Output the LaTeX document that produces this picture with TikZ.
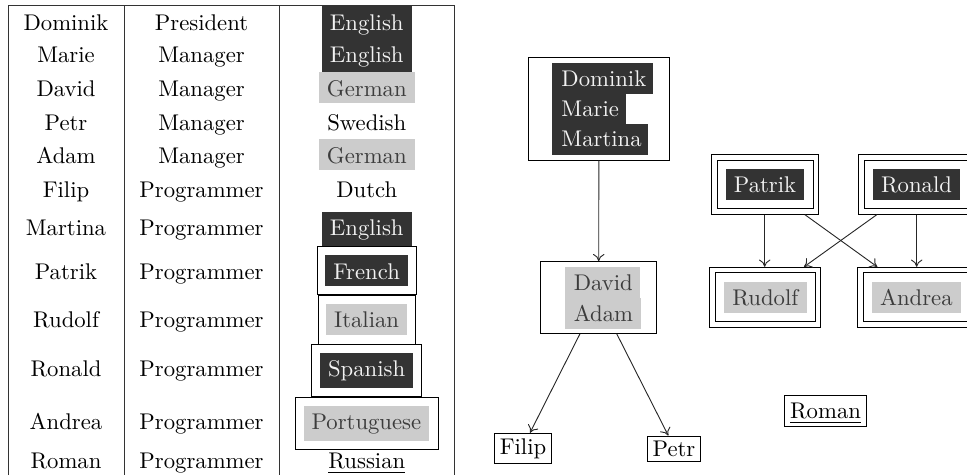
\documentclass[tikz,border=0pt]{standalone}
\usetikzlibrary{arrows.meta}
\newdimen\pxu \pxu=0.4405pt
\definecolor{dk}{HTML}{333333}
\definecolor{lg}{HTML}{CCCCCC}
\definecolor{dkt}{HTML}{F2F2F2}
\definecolor{lgt}{HTML}{3C3C3C}
\newcommand\bx[6]{\node[#1, inner sep=0pt, minimum width={(#5-#3)*\pxu}, minimum height={(#6-#4)*\pxu}] (#2) at ({(#3+#5)/2},{(#4+#6)/2}) {};}
\begin{document}
\begin{tikzpicture}[x=\pxu, y=-\pxu, line width=0.4pt,
  lbl/.style={anchor=base, inner sep=0pt},
  lbll/.style={anchor=base west, inner sep=0pt},
  onDark/.style={text=dkt},
  onGray/.style={text=lgt},
  frm/.style={draw=black},
  dkfill/.style={fill=dk},
  lgfill/.style={fill=lg},
  tabline/.style={draw=black!80},
  conn/.style={draw=black!85, -{To[length=3.2pt,width=5pt]}}]
\useasboundingbox (0,0) rectangle (967,475);
\clip (0,0) rectangle (967,475);

% ---------------- table ----------------
\draw[tabline] (8,475) -- (8,5) -- (454,5) -- (454,475);
\draw[tabline] (124,5) -- (124,475);
\draw[tabline] (279,5) -- (279,475);

\foreach \n/\r/\y in {Dominik/President/30.7, Marie/Manager/62.7, David/Manager/96.7,
  Petr/Manager/130, Adam/Manager/163, Filip/Programmer/197, Martina/Programmer/235,
  Patrik/Programmer/279.3, Rudolf/Programmer/327.7, Ronald/Programmer/376.7,
  Andrea/Programmer/429.3, Roman/Programmer/468.3}{
  \node[lbl] (n-\n) at (66,\y) {\n};
  \node[lbl] (r-\n) at (201.5,\y) {\r};
}

% language cells
\bx{dkfill}{e1}{321.7}{5}{412}{38.5}
\bx{dkfill}{e2}{321.7}{38}{412}{71.7}
\bx{lgfill}{g1}{319}{72}{415}{102.7}
\bx{lgfill}{g2}{319}{139}{415}{170}
\bx{dkfill}{e3}{321.7}{212}{412}{246.7}
\bx{frm}{frf}{317}{246.7}{416.7}{294.3}
\bx{dkfill}{fr}{325}{255}{408}{285.7}
\bx{frm}{itf}{318.3}{295.7}{415.7}{344}
\bx{lgfill}{it}{326}{304}{407}{334.7}
\bx{frm}{spf}{311.7}{344.3}{421.7}{396}
\bx{dkfill}{sp}{320}{353}{413}{387.7}
\bx{frm}{ptf}{295.3}{397.3}{438.3}{449.3}
\bx{lgfill}{pt}{303.7}{405.7}{429}{441}

\node[lbl, onDark] (l1) at (366.8,30.7) {English};
\node[lbl, onDark] (l2) at (366.8,62.7) {English};
\node[lbl, onGray] (l3) at (366.8,96.7) {German};
\node[lbl] (l4) at (366.8,130) {Swedish};
\node[lbl, onGray] (l5) at (366.8,163) {German};
\node[lbl] (l6) at (366.8,197) {Dutch};
\node[lbl, onDark] (l7) at (366.8,235) {English};
\node[lbl, onDark] (l8) at (366.6,279.3) {French};
\node[lbl, onGray] (l9) at (366.6,327.7) {Italian};
\node[lbl, onDark] (l10) at (366.6,376.7) {Spanish};
\node[lbl, onGray] (l11) at (366.4,429.3) {Portuguese};
\node[lbl] (l12) at (366.8,468.3) {\underline{Russian}};

% ---------------- tree ----------------
\bx{frm}{T}{528.7}{57.3}{669}{160}
\bx{dkfill}{t1}{552}{62.7}{652.7}{93.6}
\bx{dkfill}{t2}{552}{93.2}{626}{124.3}
\bx{dkfill}{t3}{552}{123.9}{647.7}{154.7}
\node[lbll, onDark] (tn1) at (561,86) {Dominik};
\node[lbll, onDark] (tn2) at (561,116.3) {Marie};
\node[lbll, onDark] (tn3) at (561,146.7) {Martina};

\bx{frm}{D}{540.7}{261.7}{656.7}{333.3}
\bx{lgfill}{d1}{565}{266.7}{640}{298}
\bx{lgfill}{d2}{565}{297.6}{641}{329}
\node[lbll, onGray] (dn1) at (573.3,290) {David};
\node[lbll, onGray] (dn2) at (573.3,321) {Adam};

\bx{frm}{F}{494.3}{433.3}{551.7}{463.3}
\node[lbl] (fn) at (523,454) {Filip};
\bx{frm}{P}{647.3}{436}{700.7}{461.7}
\node[lbl] (pn) at (674,456.7) {Petr};

\bx{frm}{R}{784.3}{395.7}{866.7}{426}
\node[lbl] (rn) at (825.5,418.3) {\underline{Roman}};

% double frames
\bx{frm}{PA}{711.7}{154.3}{818.7}{214.3}
\bx{frm}{PAi}{717.3}{160}{813}{208.7}
\bx{dkfill}{PAf}{726}{169}{804}{200}
\node[lbl, onDark] (pan) at (765,192.7) {Patrik};

\bx{frm}{RO}{858.3}{154.3}{975}{214.3}
\bx{frm}{ROi}{864}{160}{969.3}{208.7}
\bx{dkfill}{ROf}{873}{169}{960}{200}
\node[lbl, onDark] (ron) at (916.5,192.7) {Ronald};

\bx{frm}{RU}{709.3}{267.3}{820.7}{327.3}
\bx{frm}{RUi}{715}{272.7}{815}{321.7}
\bx{lgfill}{RUf}{724}{281.7}{806.7}{312.7}
\node[lbl, onGray] (run) at (765.3,305) {Rudolf};

\bx{frm}{AN}{857.3}{267.3}{975}{327.3}
\bx{frm}{ANi}{863.3}{272.7}{969.3}{321.7}
\bx{lgfill}{ANf}{871.7}{281.7}{961}{312.7}
\node[lbl, onGray] (ann) at (916.3,305) {Andrea};

% connectors
\draw[conn] (T.south) -- (D.north);
\draw[conn] (580,0 |- D.south) -- (530,0 |- F.north);
\draw[conn] (616.7,0 |- D.south) -- (668.3,0 |- P.north);
\draw[conn] (764.7,0 |- PA.south) -- (764.7,0 |- RU.north);
\draw[conn] (805,0 |- PA.south) -- (877.3,0 |- AN.north);
\draw[conn] (876.7,0 |- RO.south) -- (804,0 |- RU.north);
\draw[conn] (916.7,0 |- RO.south) -- (916.7,0 |- AN.north);
\end{tikzpicture}
\end{document}
